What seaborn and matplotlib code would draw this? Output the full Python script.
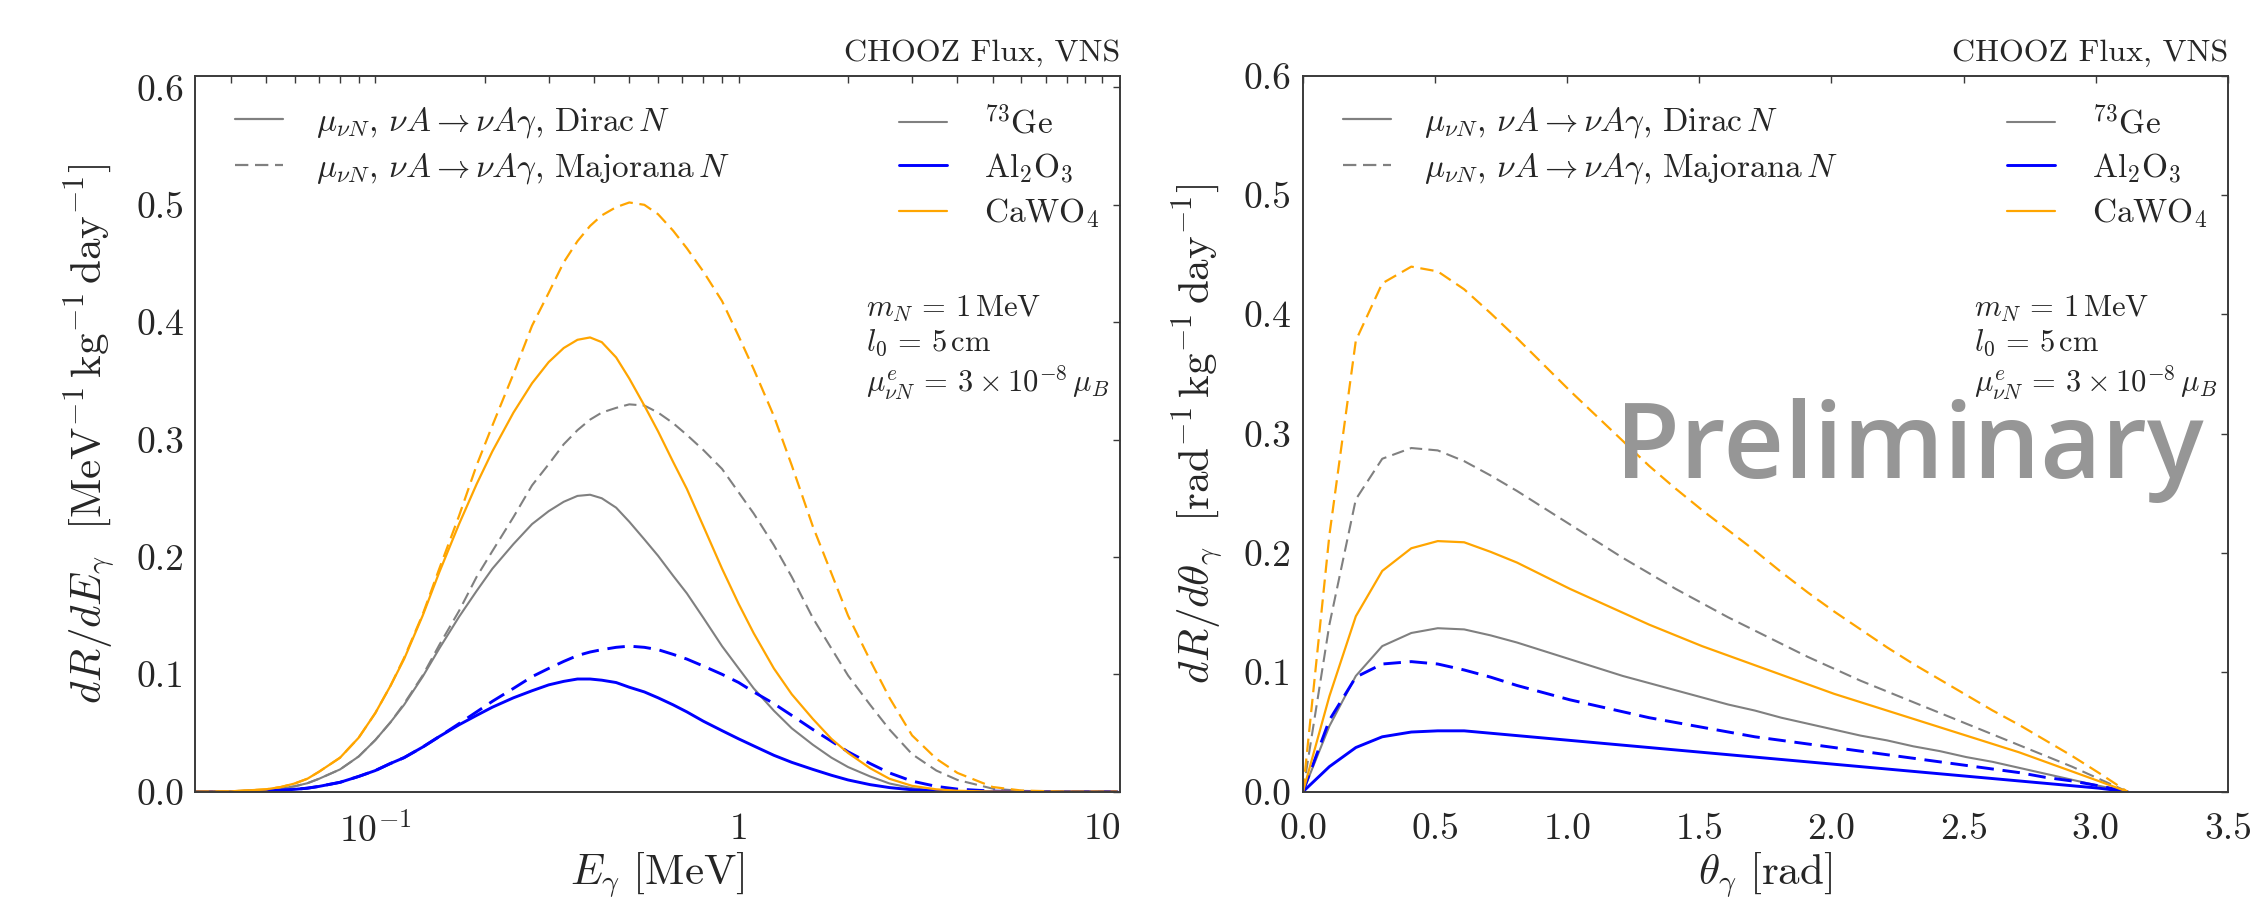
import numpy as np
import pandas as pd
import seaborn as sns
import matplotlib
matplotlib.use('Agg')
import matplotlib.pyplot as plt
from matplotlib.lines import Line2D
from matplotlib.ticker import FixedLocator, FuncFormatter, LogLocator, NullFormatter

# ---- data ----
materials = ["73Ge", "Al2O3", "CaWO4"]
material_labels = [r"$^{73}$Ge", r"Al$_2$O$_3$", r"CaWO$_4$"]
material_colors = ["#808080", "#0000ff", "#ffa500"]
material_widths = [1.5, 2.1, 1.6]
kinds = ["Dirac", "Majorana"]
kind_labels = [r"$\mu_{\nu N}$, $\nu A \rightarrow \nu A\gamma$, Dirac$\,N$",
               r"$\mu_{\nu N}$, $\nu A \rightarrow \nu A\gamma$, Majorana$\,N$"]

# photon energy [MeV]
e_gamma = [0.032, 0.04, 0.05, 0.055, 0.06, 0.065, 0.07, 0.08, 0.09, 0.10, 0.11, 0.12,
           0.135, 0.15, 0.17, 0.19, 0.21, 0.24, 0.27, 0.30, 0.33, 0.36, 0.39, 0.42,
           0.46, 0.50, 0.55, 0.60, 0.66, 0.72, 0.80, 0.90, 1.0, 1.1, 1.25, 1.4,
           1.6, 1.8, 2.0, 2.3, 2.6, 3.0, 3.5, 4.0, 5.0, 6.0, 8.0, 11.0]

dE_ge_dirac = [0.0, 0.0002, 0.0013, 0.0026, 0.0046, 0.0072, 0.011, 0.019, 0.030, 0.044, 0.059, 0.074,
               0.098, 0.122, 0.149, 0.171, 0.190, 0.211, 0.228, 0.239, 0.247, 0.252, 0.253, 0.250,
               0.242, 0.230, 0.215, 0.201, 0.184, 0.169, 0.148, 0.124, 0.105, 0.088, 0.069, 0.054,
               0.040, 0.029, 0.021, 0.013, 0.007, 0.003, 0.001, 0.0004, 0.0, 0.0, 0.0, 0.0]
dE_al_dirac = [0.0, 0.0001, 0.0006, 0.0012, 0.002, 0.003, 0.0045, 0.008, 0.013, 0.018, 0.024, 0.029,
               0.038, 0.047, 0.057, 0.065, 0.072, 0.080, 0.086, 0.091, 0.094, 0.096, 0.096, 0.095,
               0.093, 0.089, 0.085, 0.080, 0.074, 0.068, 0.060, 0.052, 0.045, 0.039, 0.031, 0.025,
               0.019, 0.014, 0.010, 0.006, 0.0035, 0.0016, 0.0006, 0.0002, 0.0, 0.0, 0.0, 0.0]
dE_ca_dirac = [0.0, 0.0003, 0.002, 0.004, 0.007, 0.011, 0.017, 0.029, 0.046, 0.067, 0.090, 0.113,
               0.150, 0.187, 0.228, 0.262, 0.290, 0.323, 0.348, 0.366, 0.378, 0.385, 0.387, 0.383,
               0.370, 0.352, 0.329, 0.307, 0.281, 0.258, 0.226, 0.190, 0.160, 0.135, 0.105, 0.083,
               0.062, 0.045, 0.033, 0.020, 0.011, 0.005, 0.002, 0.0008, 0.0001, 0.0, 0.0, 0.0]
dE_ge_major = [0.0, 0.0002, 0.0013, 0.0026, 0.0046, 0.0072, 0.011, 0.019, 0.030, 0.044, 0.059, 0.075,
               0.099, 0.125, 0.154, 0.183, 0.205, 0.234, 0.261, 0.279, 0.296, 0.308, 0.317, 0.323,
               0.327, 0.330, 0.329, 0.323, 0.314, 0.304, 0.291, 0.275, 0.255, 0.237, 0.210, 0.183,
               0.148, 0.122, 0.099, 0.074, 0.053, 0.032, 0.018, 0.010, 0.0026, 0.0007, 0.0, 0.0]
dE_al_major = [0.0, 0.0001, 0.0006, 0.0012, 0.002, 0.003, 0.0045, 0.008, 0.013, 0.018, 0.024, 0.029,
               0.038, 0.047, 0.058, 0.068, 0.077, 0.088, 0.098, 0.105, 0.111, 0.116, 0.119, 0.121,
               0.123, 0.124, 0.123, 0.121, 0.117, 0.113, 0.107, 0.100, 0.093, 0.085, 0.075, 0.065,
               0.053, 0.043, 0.034, 0.024, 0.016, 0.009, 0.0045, 0.0022, 0.0005, 0.0001, 0.0, 0.0]
dE_ca_major = [0.0, 0.0003, 0.002, 0.004, 0.007, 0.011, 0.017, 0.029, 0.046, 0.067, 0.090, 0.114,
               0.151, 0.190, 0.235, 0.278, 0.312, 0.356, 0.397, 0.425, 0.451, 0.469, 0.482, 0.491,
               0.498, 0.502, 0.500, 0.492, 0.478, 0.463, 0.443, 0.418, 0.388, 0.360, 0.320, 0.278,
               0.226, 0.186, 0.150, 0.112, 0.080, 0.048, 0.028, 0.016, 0.004, 0.001, 0.0, 0.0]

# photon angle [rad]
theta_gamma = [0.0, 0.10, 0.20, 0.30, 0.41, 0.51, 0.61, 0.71, 0.81, 0.91, 1.01, 1.11,
               1.21, 1.31, 1.41, 1.51, 1.61, 1.71, 1.81, 1.91, 2.01, 2.11, 2.21, 2.31,
               2.41, 2.51, 2.61, 2.71, 2.81, 2.91, 3.01, 3.12]

dT_ge_dirac = [0.0, 0.055, 0.097, 0.122, 0.133, 0.137, 0.136, 0.131, 0.125, 0.118, 0.111, 0.104,
               0.097, 0.091, 0.085, 0.079, 0.073, 0.068, 0.062, 0.057, 0.052, 0.047, 0.043, 0.038,
               0.034, 0.029, 0.025, 0.020, 0.015, 0.010, 0.005, 0.0]
dT_al_dirac = [0.0, 0.021, 0.037, 0.046, 0.050, 0.051, 0.051, 0.049, 0.047, 0.045, 0.043, 0.041,
               0.039, 0.037, 0.035, 0.033, 0.031, 0.029, 0.027, 0.025, 0.023, 0.021, 0.019, 0.017,
               0.015, 0.013, 0.011, 0.009, 0.007, 0.005, 0.003, 0.0]
dT_ca_dirac = [0.0, 0.080, 0.147, 0.185, 0.204, 0.210, 0.209, 0.201, 0.192, 0.181, 0.170, 0.160,
               0.150, 0.140, 0.131, 0.122, 0.114, 0.106, 0.098, 0.090, 0.082, 0.075, 0.068, 0.061,
               0.054, 0.047, 0.040, 0.033, 0.025, 0.017, 0.009, 0.0]
dT_ge_major = [0.0, 0.140, 0.245, 0.279, 0.288, 0.286, 0.277, 0.265, 0.252, 0.238, 0.224, 0.210,
               0.196, 0.183, 0.170, 0.158, 0.146, 0.135, 0.124, 0.113, 0.103, 0.093, 0.084, 0.075,
               0.066, 0.057, 0.048, 0.039, 0.030, 0.021, 0.011, 0.0]
dT_al_major = [0.0, 0.060, 0.096, 0.107, 0.109, 0.107, 0.102, 0.096, 0.089, 0.083, 0.077, 0.072,
               0.067, 0.062, 0.058, 0.054, 0.050, 0.046, 0.043, 0.040, 0.037, 0.034, 0.031, 0.028,
               0.025, 0.022, 0.019, 0.016, 0.012, 0.009, 0.005, 0.0]
dT_ca_major = [0.0, 0.215, 0.378, 0.426, 0.440, 0.436, 0.421, 0.401, 0.380, 0.358, 0.336, 0.315,
               0.294, 0.273, 0.254, 0.236, 0.219, 0.202, 0.184, 0.167, 0.151, 0.136, 0.121, 0.107,
               0.094, 0.081, 0.068, 0.056, 0.043, 0.030, 0.016, 0.0]


def long_table(x, curves):
    rows = []
    for (mat, kind), ys in curves.items():
        for xv, yv in zip(x, ys):
            rows.append({"x": xv, "rate": yv, "material": mat, "kind": kind})
    return pd.DataFrame(rows)


energy_df = long_table(e_gamma, {
    ("73Ge", "Dirac"): dE_ge_dirac, ("Al2O3", "Dirac"): dE_al_dirac, ("CaWO4", "Dirac"): dE_ca_dirac,
    ("73Ge", "Majorana"): dE_ge_major, ("Al2O3", "Majorana"): dE_al_major, ("CaWO4", "Majorana"): dE_ca_major,
})
angle_df = long_table(theta_gamma, {
    ("73Ge", "Dirac"): dT_ge_dirac, ("Al2O3", "Dirac"): dT_al_dirac, ("CaWO4", "Dirac"): dT_ca_dirac,
    ("73Ge", "Majorana"): dT_ge_major, ("Al2O3", "Majorana"): dT_al_major, ("CaWO4", "Majorana"): dT_ca_major,
})

sns.set_style("white")
plt.rcParams["font.family"] = ["cmr10", "DejaVu Serif"]
plt.rcParams["mathtext.fontset"] = "cm"
plt.rcParams["axes.formatter.use_mathtext"] = True
plt.rcParams["axes.unicode_minus"] = False

palette = dict(zip(materials, material_colors))
widths = dict(zip(materials, material_widths))
dash_map = {"Dirac": "", "Majorana": (6, 3)}
spine_col = "#3a3a3a"

fig = plt.figure(figsize=(22.57, 8.97), dpi=100)
ax_e = fig.add_axes([0.0864, 0.1174, 0.4098, 0.7982])
ax_t = fig.add_axes([0.5773, 0.1174, 0.4098, 0.7982])

for ax, df in [(ax_e, energy_df), (ax_t, angle_df)]:
    sns.lineplot(data=df, x="x", y="rate", hue="material", style="kind", size="material",
                 hue_order=materials, style_order=kinds, size_order=materials,
                 palette=palette, sizes=widths, dashes=dash_map,
                 estimator=None, legend=False, ax=ax)

# energy panel axes
ax_e.set_xscale("log")
ax_e.set_xlim(0.0319, 11.2)
ax_e.set_ylim(0, 0.61)
ax_e.xaxis.set_major_locator(FixedLocator([0.1, 1, 10]))
ax_e.xaxis.set_major_formatter(FuncFormatter(lambda v, p: {0.1: r"$10^{-1}$", 1: "1", 10: "10"}.get(round(v, 3), "")))
ax_e.xaxis.set_minor_locator(LogLocator(base=10, subs=np.arange(2, 10)))
ax_e.xaxis.set_minor_formatter(NullFormatter())
ax_e.set_xlabel(r"$E_\gamma\ [\mathrm{MeV}]$", fontsize=31)
ax_e.set_ylabel(r"$dR/dE_\gamma\ \ [\mathrm{MeV}^{-1}\,\mathrm{kg}^{-1}\,\mathrm{day}^{-1}]$", fontsize=31)

# angle panel axes
ax_t.set_xlim(0, 3.5)
ax_t.set_ylim(0, 0.6)
ax_t.set_xticks(np.arange(0, 3.51, 0.5))
ax_t.xaxis.set_major_formatter(FuncFormatter(lambda v, p: f"{v:.1f}"))
ax_t.set_xlabel(r"$\theta_\gamma\ [\mathrm{rad}]$", fontsize=31)
ax_t.set_ylabel(r"$dR/d\theta_\gamma\ \ [\mathrm{rad}^{-1}\,\mathrm{kg}^{-1}\,\mathrm{day}^{-1}]$", fontsize=31)

for ax in (ax_e, ax_t):
    ax.set_yticks(np.arange(0, 0.61, 0.1))
    ax.yaxis.set_major_formatter(FuncFormatter(lambda v, p: f"{v:.1f}"))
    ax.tick_params(which="both", direction="in", top=True, right=True,
                   labelsize=27, color=spine_col, width=1.0)
    ax.tick_params(which="major", length=5, pad=8)
    ax.tick_params(which="minor", length=5)
    ax.tick_params(axis="x", which="major", pad=15)
    ax.xaxis.set_label_coords(0.5, -0.083)
    ax.yaxis.set_label_coords(-0.083, 0.5)
    for s in ax.spines.values():
        s.set_color(spine_col)
        s.set_linewidth(1.4)
    ax.text(1.0, 1.012, "CHOOZ Flux, VNS", transform=ax.transAxes,
            ha="right", va="bottom", fontsize=23)

    kind_handles = [Line2D([], [], color="#808080", lw=1.6),
                    Line2D([], [], color="#808080", lw=1.6, dashes=(6, 3))]
    leg1 = ax.legend(kind_handles, kind_labels, loc="upper left", bbox_to_anchor=(0.043, 0.959),
                     frameon=False, fontsize=24, handlelength=1.45, handletextpad=1.0,
                     labelspacing=0.34, borderpad=0, borderaxespad=0)
    ax.add_artist(leg1)
    mat_handles = [Line2D([], [], color=c, lw=w) for c, w in zip(material_colors, material_widths)]
    ax.legend(mat_handles, material_labels, loc="upper left", bbox_to_anchor=(0.7607, 0.959),
              frameon=False, fontsize=24, handlelength=1.45, handletextpad=1.1,
              labelspacing=0.34, borderpad=0, borderaxespad=0)

    ax.text(0.725, 0.696,
            r"$m_N\,=\,1\,\mathrm{MeV}$" "\n" r"$l_0\,=\,5\,\mathrm{cm}$" "\n"
            r"$\mu^e_{\nu N}\,=\,3\times10^{-8}\,\mu_B$",
            transform=ax.transAxes, ha="left", va="top", fontsize=22, linespacing=1.17)

ax_t.text(0.337, 0.438, "Preliminary", transform=ax_t.transAxes, ha="left", va="baseline",
          fontsize=76, family="Open Sans", weight="semibold", color="#969696", zorder=10)

fig.savefig("out.png", dpi=100)
